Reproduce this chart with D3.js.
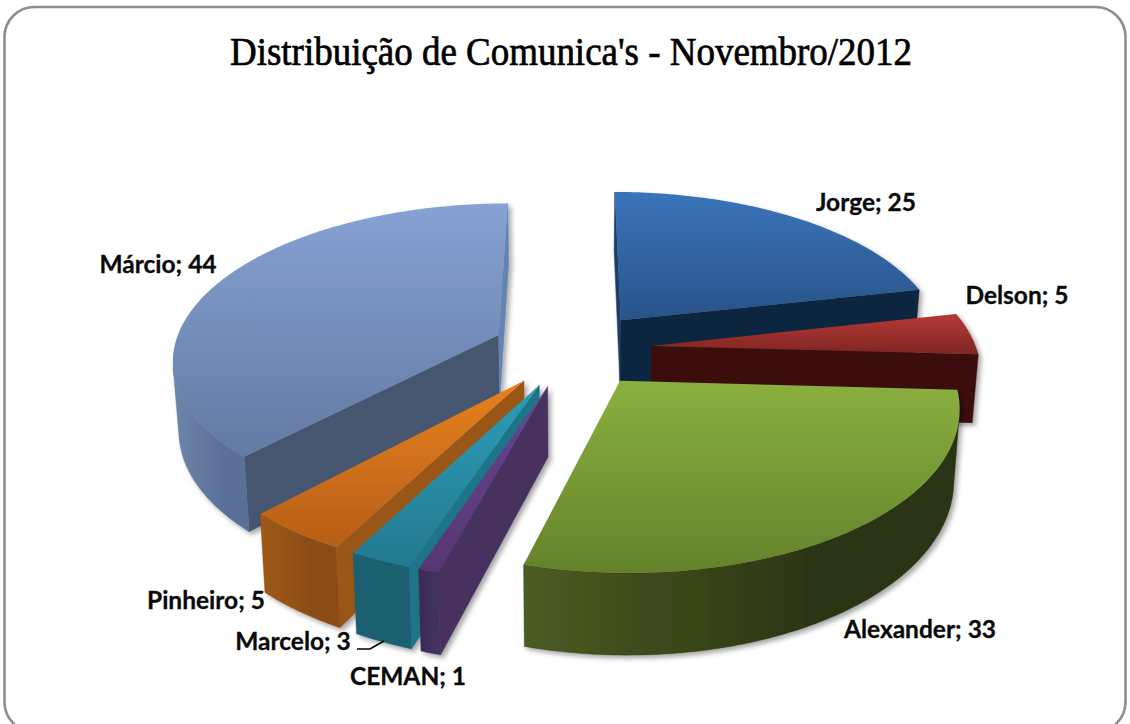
<!DOCTYPE html>
<html><head><meta charset="utf-8">
<script src="https://d3js.org/d3.v7.min.js"></script>
<style>html,body{margin:0;padding:0;background:#fff}svg{display:block}</style>
</head><body><svg id="c" width="1130" height="724"></svg>
<script>
// ---- data ----
const chartTitle = "Distribuição de Comunica's - Novembro/2012";
const categories = ["Jorge","Delson","Alexander","CEMAN","Marcelo","Pinheiro","Márcio"];
const values = [25,5,33,1,3,5,44];

// ---- styling (separate from data) ----
const topLight  = ["#3a74ba","#b63a36","#8bb03f","#6b4592","#2d9cb8","#e8811f","#86a2d4"];
const topDark   = ["#295389","#7f2523","#64822b","#553670","#237a90","#b65e18","#627aa2"];
const startWall = ["#1d3d68","#3a1010","#4a5c22","#47305f","#1f7488","#9a5616","#465670"];
const endWall   = ["#11253f","#3a1010","#4a5c22","#4f3570","#1b5f70","#8f4f14","#6484b0"];
const rimEdge   = ["#11253f","#3a1010","#4a5c22","#3b2a55","#1b5f70","#a05a18","#6f86ab"];
const rimMid    = ["#11253f","#3a1010","#2c3612","#42305f","#1b5f70","#8a4c14","#5a7097"];

const labelCenters = [[866,203],[1017,296],[920,630],[408,677],[293,642],[206,601],[158,265]];

const W=1130,H=724;
const cx=572, cy=349, R=325, explode=80, k=.475, dist=2257, wallH=68, conv=.985;
const svg=d3.select("#c");
const defs=svg.append("defs");

const shadow=defs.append("filter").attr("id","sh").attr("x","-10%").attr("y","-10%").attr("width","125%").attr("height","125%");
shadow.append("feDropShadow").attr("dx",3).attr("dy",3).attr("stdDeviation",2.5).attr("flood-color","#000").attr("flood-opacity",.35);

function project(X,Y,bottom){
  const p=1/(1-Y/dist);
  const tx=cx+X*p, ty=cy+Y*k*p;
  if(!bottom) return [tx,ty];
  return [cx+X*p*conv, ty+wallH*p];
}
const line=d3.line();
const faces=q=>d3.polygonArea(q)>0;

svg.append("rect").attr("width",W).attr("height",H).attr("fill","#fff");
svg.append("rect").attr("x",4.5).attr("y",7).attr("width",1121).attr("height",725).attr("rx",30)
  .attr("fill","#fff").attr("stroke","#8e8e8e").attr("stroke-width",2.6);

svg.append("text").attr("x",571).attr("y",65).attr("text-anchor","middle")
  .attr("textLength",682).attr("lengthAdjust","spacingAndGlyphs")
  .attr("font-family","'Liberation Serif',serif").attr("font-size",40).attr("fill","#000")
  .attr("stroke","#000").attr("stroke-width",.7).text(chartTitle);

const pie=d3.pie().sort(null).startAngle(0).endAngle(2*Math.PI);
const arcs=pie(values).map((d,i)=>{
  const mid=(d.startAngle+d.endAngle)/2;
  return {i,a0:d.startAngle,a1:d.endAngle,mid,ax:explode*Math.sin(mid),ay:-explode*Math.cos(mid)};
});
const order=arcs.slice().sort((a,b)=>a.ay-b.ay);

function grad(id,x1,y1,x2,y2,stops){
  const g=defs.append("linearGradient").attr("id",id).attr("x1",x1).attr("y1",y1).attr("x2",x2).attr("y2",y2);
  stops.forEach(s=>g.append("stop").attr("offset",s[0]).attr("stop-color",s[1]));
  return `url(#${id})`;
}

const layer=svg.append("g");
order.forEach(s=>{
  const i=s.i, n=Math.max(6,Math.ceil((s.a1-s.a0)*60));
  const pts=d3.range(n+1).map(j=>{
    const a=s.a0+(s.a1-s.a0)*j/n;
    return [s.ax+R*Math.sin(a), s.ay-R*Math.cos(a)];
  });
  const top=pts.map(q=>project(q[0],q[1],false));
  const bot=pts.map(q=>project(q[0],q[1],true));
  const aT=project(s.ax,s.ay,false), aB=project(s.ax,s.ay,true);
  const g=layer.append("g").attr("filter","url(#sh)");

  const run=[];
  for(let j=0;j<n;j++){
    if(faces([top[j],top[j+1],bot[j+1],bot[j]])) run.push(j);
  }
  const w0=[aT,top[0],bot[0],aB], w1=[top[n],aT,aB,bot[n]];
  [[w0,startWall[i]],[w1,endWall[i]]].forEach(([q,c])=>{
    if(faces(q)) g.append("path").attr("d",line(q)+"Z").attr("fill",c).attr("stroke",c).attr("stroke-width",.5);
  });
  if(run.length){
    const f=run[0], l=run[run.length-1]+1;
    const poly=top.slice(f,l+1).concat(bot.slice(f,l+1).reverse());
    const fill=grad("rim"+i,0,0,1,0,[[0,rimEdge[i]],[.65,rimMid[i]],[1,rimMid[i]]]);
    g.append("path").attr("d",line(poly)+"Z").attr("fill",fill).attr("stroke",rimMid[i]).attr("stroke-width",.4);
  }
  const fill=grad("top"+i,0,0,0,1,[[0,topLight[i]],[1,topDark[i]]]);
  g.append("path").attr("d",line([aT].concat(top))+"Z").attr("fill",fill);
});

// Marcelo leader
svg.append("path").attr("d",line([[357,649],[370,649],[384,641]]))
  .attr("fill","none").attr("stroke","#000").attr("stroke-width",1.6);

categories.forEach((c,i)=>{
  svg.append("text").attr("x",labelCenters[i][0]).attr("y",labelCenters[i][1]+8)
    .attr("text-anchor","middle").attr("font-family","Lato,'Noto Sans',sans-serif")
    .attr("font-weight",700).attr("font-size",24.5).attr("fill","#0a0a0a")
    .attr("stroke","#0a0a0a").attr("stroke-width",.3)
    .text(c+"; "+values[i]);
});
</script></body></html>
